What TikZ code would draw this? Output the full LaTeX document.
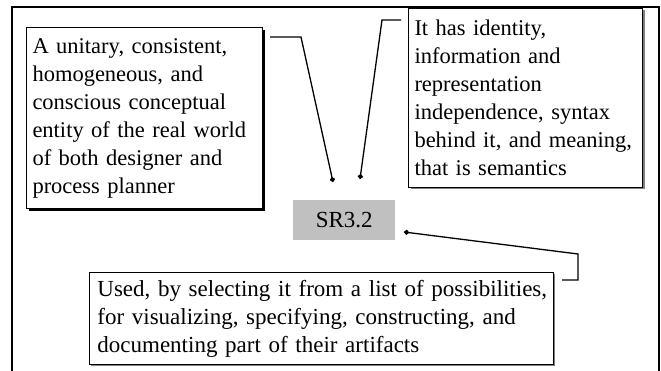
\documentclass[tikz,border=0pt]{standalone}
\usepackage{fontspec}
\setmainfont{Liberation Serif}
\usepackage{tikz}
\usetikzlibrary{arrows.meta, shadows}
\definecolor{boxgray}{RGB}{192,192,192}
\definecolor{shadegray}{RGB}{128,128,128}
\newcommand{\notefont}{\fontsize{22.5}{28}\selectfont}
\newcommand{\widenotefont}{\fontsize{23}{28}\selectfont}

\begin{document}
\begin{tikzpicture}[x=1pt, y=-1pt,
    % Node styles
    note/.style={draw, line width=1pt, fill=white, anchor=north west, align=left,
                 inner xsep=6pt, inner ysep=0pt, font=\notefont},
    darkshade/.style={drop shadow={shadow xshift=2.5pt, shadow yshift=-2.5pt, fill=black, opacity=1}},
    greyshade/.style={drop shadow={shadow xshift=2pt, shadow yshift=-2pt, fill=shadegray, opacity=1}},
    concept/.style={fill=boxgray, anchor=north west, minimum width=102pt, minimum height=40pt,
                    inner sep=0pt, font=\fontsize{23}{28}\selectfont},
    % Edge styles
    link/.style={draw, line width=1.3pt, -{Circle[length=5pt]}}
]
\useasboundingbox (0,0) rectangle (661,371);

% Frame
\draw[line width=2.5pt] (12,371) -- (12,7) -- (659,7) -- (659,371);

% Concept in the middle
\node[concept] (sr) at (293,200) {SR3.2};

% Left note
\node[note, darkshade, text width=224pt, minimum height=181pt] (leftnote) at (26,27)
    {A unitary, consistent,\\homogeneous, and\\conscious conceptual\\entity of the real world\\of both designer and\\process planner};

% Right note
\node[note, greyshade, text width=222pt, minimum height=179pt] (rightnote) at (408,8)
    {It has identity,\\information and\\representation\\independence, syntax\\behind it, and meaning,\\that is semantics};

% Bottom note
\node[note, greyshade, line width=0.8pt, inner xsep=8pt, text width=448pt, minimum height=92pt,
      font=\widenotefont] (usenote) at (89,272)
    {\mbox{Used, by selecting it from a list of possibilities,}\\
     \mbox{for visualizing, specifying, constructing, and}\\
     \mbox{documenting part of their artifacts}};

% Connector end points
\coordinate (lstart) at (270,37);
\coordinate (lbend) at (301,37);
\coordinate (ldot) at (333,182);
\coordinate (rstart) at (401,20);
\coordinate (rbend) at (382,20);
\coordinate (rdot) at (360,179);
\coordinate (bdot) at (404,232);
\coordinate (bbend) at (578,254);
\coordinate (bcorner) at (578,280);
\coordinate (bstart) at (562,280);

% Draw all connectors
\draw[link] (lstart) -- (lbend) -- (ldot);
\draw[link] (rstart) -- (rbend) -- (rdot);
\draw[link] (bstart) -- (bcorner) -- (bbend) -- (bdot);

\end{tikzpicture}
\end{document}
